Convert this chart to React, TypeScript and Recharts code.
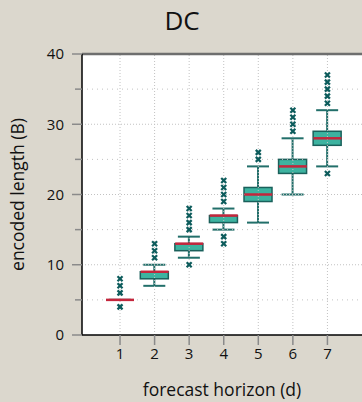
import { ComposedChart, Bar, Scatter, XAxis, YAxis, ReferenceLine, Label } from "recharts";

// forecast horizons (days) and box statistics
const horizons = [1, 2, 3, 4, 5, 6, 7];
const whiskerLow = [5, 7, 11, 15, 16, 20, 24];
const quartile1 = [5, 8, 12, 16, 19, 23, 27];
const medians = [5, 9, 13, 17, 20, 24, 28];
const quartile3 = [5, 9, 13, 17, 21, 25, 29];
const whiskerHigh = [5, 10, 14, 18, 24, 28, 32];
const outliers = [
	[4, 6, 7, 8],
	[11, 12, 13],
	[10, 15, 16, 17, 18],
	[13, 14, 19, 20, 21, 22],
	[25, 26],
	[29, 30, 31, 32],
	[23, 33, 34, 35, 36, 37],
];
const yTicks = [0, 5, 10, 15, 20, 25, 30, 35, 40];
const gridY = [5, 10, 15, 20, 25, 30, 35];

const BG = "#dbd7cd";
const BOX_FILL = "#3db3a0";
const BOX_STROKE = "#1a605b";
const WHISKER = "#226f6a";
const MEDIAN = "#c4263c";
const OUTLIER = "#0d5c5c";
const GRID = "#c2c2c2";

const boxData = horizons.map((h, i) => ({
	x: h,
	base: whiskerLow[i],
	lower: quartile1[i] - whiskerLow[i],
	box: quartile3[i] - quartile1[i],
	upper: whiskerHigh[i] - quartile3[i],
}));

const medianData = horizons.map((h, i) => ({ x: h, y: medians[i] }));

const outlierData = horizons.flatMap((h, i) => outliers[i].map((v) => ({ x: h, y: v })));

const LowerWhisker = (p: any) => {
	const cx = p.x + p.width / 2;
	const bottom = p.y + p.height;
	return (
		<g stroke={WHISKER} strokeWidth={2}>
			<line x1={cx} x2={cx} y1={p.y} y2={bottom} />
			<line x1={cx - 11} x2={cx + 11} y1={bottom} y2={bottom} />
		</g>
	);
};

const UpperWhisker = (p: any) => {
	const cx = p.x + p.width / 2;
	return (
		<g stroke={WHISKER} strokeWidth={2}>
			<line x1={cx} x2={cx} y1={p.y} y2={p.y + p.height} />
			<line x1={cx - 11} x2={cx + 11} y1={p.y} y2={p.y} />
		</g>
	);
};

const BoxShape = (p: any) => (
	<rect x={p.x} y={p.y} width={p.width} height={p.height} fill={BOX_FILL} stroke={BOX_STROKE} strokeWidth={1.5} />
);

const MedianMark = ({ cx, cy }: any) => (
	<line x1={cx - 14} x2={cx + 14} y1={cy} y2={cy} stroke={MEDIAN} strokeWidth={2.5} />
);

const OutlierMark = ({ cx, cy }: any) => (
	<g stroke={OUTLIER} strokeWidth={2.2}>
		<line x1={cx - 2.5} y1={cy - 2.5} x2={cx + 2.5} y2={cy + 2.5} />
		<line x1={cx - 2.5} y1={cy + 2.5} x2={cx + 2.5} y2={cy - 2.5} />
	</g>
);

const YTick = ({ x, y, payload }: any) => {
	const major = payload.value % 10 === 0;
	const axisX = x + 18;
	return (
		<g>
			<line x1={axisX - (major ? 10 : 7)} x2={axisX} y1={y} y2={y} stroke="#8a8a8a" strokeWidth={1.5} />
			{major && (
				<text x={x} y={y} dy="0.35em" textAnchor="end" fontSize={15} fill="#111">
					{payload.value}
				</text>
			)}
		</g>
	);
};

const App = () => {
	return (
		<div
			style={{
				position: "fixed",
				top: 0,
				left: 0,
				width: 362,
				height: 402,
				background: BG,
				overflow: "hidden",
				fontFamily: "'Open Sans', sans-serif",
			}}
		>
			<div style={{ position: "absolute", top: 2, left: 0, width: 364, textAlign: "center", fontSize: 26, color: "#111" }}>
				DC
			</div>
			<ComposedChart width={362} height={402} data={boxData} margin={{ top: 54, right: 0, bottom: 0, left: 0 }}>
				<rect x={82} y={54} width={280} height={281} fill="#fff" />
				{gridY.map((v) => (
					<ReferenceLine key={"h" + v} y={v} stroke={GRID} strokeDasharray={v % 10 === 0 ? "1 2" : "1 4"} />
				))}
				{horizons.map((h) => (
					<ReferenceLine key={"v" + h} x={h} stroke={GRID} strokeDasharray="1 2" />
				))}
				<ReferenceLine y={40} stroke="#6e6e6e" strokeWidth={2.5} />
				<XAxis
					dataKey="x"
					type="number"
					domain={[-0.1, 8]}
					ticks={horizons}
					interval={0}
					allowDataOverflow
					height={67}
					tickSize={10}
					tickMargin={3}
					tick={{ fontSize: 15, fill: "#111" }}
					tickLine={{ stroke: "#8a8a8a", strokeWidth: 1.5 }}
					axisLine={{ stroke: "#000", strokeWidth: 1.5 }}
				>
					<Label value="forecast horizon (d)" position="insideBottom" offset={6} style={{ fontSize: 17.5, fill: "#111" }} />
				</XAxis>
				<YAxis
					dataKey="y"
					type="number"
					domain={[0, 40]}
					ticks={yTicks}
					interval={0}
					width={82}
					tickSize={10}
					tickMargin={8}
					tickLine={false}
					tick={(p: any) => <YTick {...p} />}
					axisLine={{ stroke: "#000", strokeWidth: 1.5 }}
				>
					<Label
						value="encoded length (B)"
						angle={-90}
						position="insideLeft"
						offset={18}
						style={{ textAnchor: "middle", fontSize: 17.5, fill: "#111" }}
					/>
				</YAxis>
				<Bar dataKey="base" stackId="b" barSize={28} fill="none" isAnimationActive={false} />
				<Bar dataKey="lower" stackId="b" barSize={28} shape={LowerWhisker} isAnimationActive={false} />
				<Bar dataKey="box" stackId="b" barSize={28} shape={BoxShape} isAnimationActive={false} />
				<Bar dataKey="upper" stackId="b" barSize={28} shape={UpperWhisker} isAnimationActive={false} />
				<Scatter data={medianData} dataKey="y" shape={MedianMark} isAnimationActive={false} />
				<Scatter data={outlierData} dataKey="y" shape={OutlierMark} isAnimationActive={false} />
			</ComposedChart>
		</div>
	);
};

export default App;
